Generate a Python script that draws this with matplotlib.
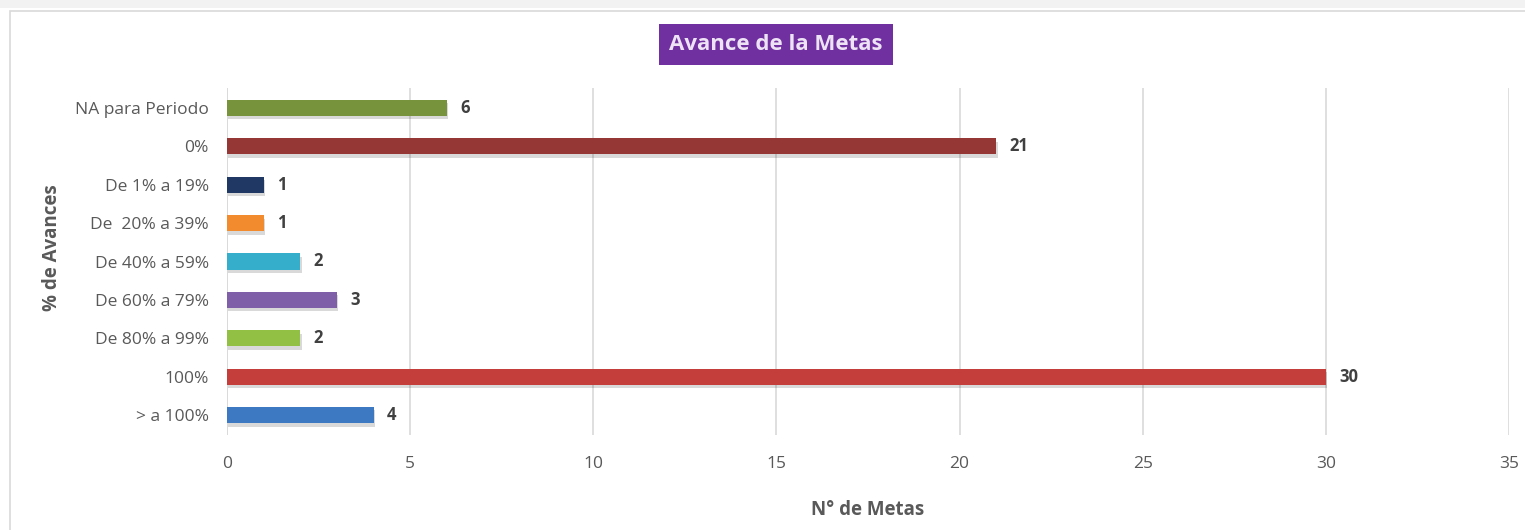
import matplotlib.pyplot as plt
import matplotlib.patheffects as pe
from matplotlib.patches import Rectangle

# datos del grafico
categorias = ["NA para Periodo", "0%", "De 1% a 19%", "De  20% a 39%", "De 40% a 59%",
              "De 60% a 79%", "De 80% a 99%", "100%", "> a 100%"]
metas = [6, 21, 1, 1, 2, 3, 2, 30, 4]
colores = ["#77933C", "#953735", "#1F3864", "#F28A2E", "#35AECB",
           "#7F5FA8", "#92C045", "#C43E3B", "#3D78C2"]
ticks_x = [0, 5, 10, 15, 20, 25, 30, 35]

plt.rcParams['font.family'] = ['Open Sans', 'DejaVu Sans']

fig = plt.figure(figsize=(15.25, 5.3), dpi=100)

# marco y franja gris superior
fig.patches.append(Rectangle((0, 1 - 8 / 530), 1, 8 / 530, transform=fig.transFigure,
                             facecolor="#F2F2F2", edgecolor="none", zorder=-1))
fig.patches.append(Rectangle((10 / 1525, -0.01), 1.0, 1 - 11 / 530 + 0.01, transform=fig.transFigure,
                             facecolor="none", edgecolor="#D9D9D9", linewidth=1.2, zorder=-1))

ax = fig.add_axes([227 / 1525, 1 - 435 / 530, (1509 - 227) / 1525, (435 - 88) / 530])
ax.set_facecolor("none")

y = list(range(len(categorias)))[::-1]
bars = ax.barh(y, metas, height=0.42, color=colores, zorder=3)
for b in bars:
    b.set_path_effects([pe.SimplePatchShadow(offset=(1, -2.5), shadow_rgbFace="#000000", alpha=0.15),
                        pe.Normal()])

for yi, v in zip(y, metas):
    ax.text(v + 0.36, yi, str(v), va="center", ha="left", fontsize=12, fontweight="bold",
            color="#404040")

ax.set_xlim(0, 35)
ax.set_ylim(-0.52, 8.52)
ax.set_xticks(ticks_x)
ax.set_yticks(y)
ax.set_yticklabels(categorias)
ax.tick_params(axis="both", length=0, labelsize=12.5, colors="#595959")
ax.tick_params(axis="x", pad=15)
ax.tick_params(axis="y", pad=13)
ax.grid(axis="x", color="#D9D9D9", linewidth=1.2, zorder=0)
for s in ax.spines.values():
    s.set_visible(False)
ax.axvline(0, color="#D9D9D9", linewidth=1.2, zorder=1)

ax.set_xlabel("N° de Metas", fontsize=13.5, fontweight="bold", color="#595959", labelpad=20)
ax.set_ylabel("% de Avances", fontsize=13.5, fontweight="bold", color="#595959")
ax.yaxis.set_label_coords(-0.1285, 0.539)

fig.text(776 / 1525, 1 - 44 / 530, "Avance de la Metas", ha="center", va="center",
         fontsize=16, fontweight="bold", color="#EDE3F5",
         bbox=dict(boxstyle="square,pad=0.45", facecolor="#7030A0", edgecolor="none"))

fig.savefig("out.png", dpi=100)
